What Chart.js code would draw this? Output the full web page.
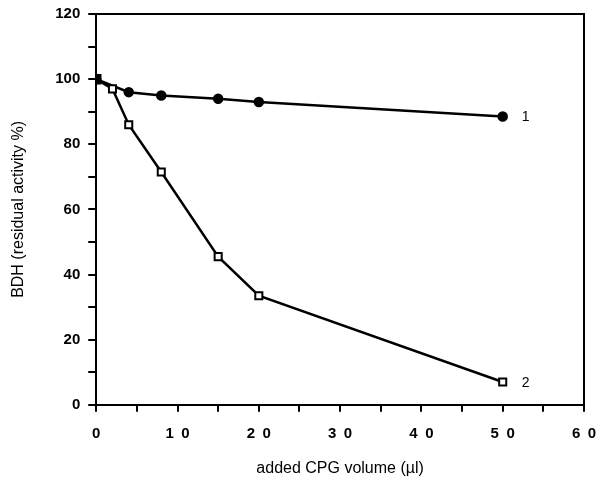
<!DOCTYPE html>
<html>
<head>
<meta charset="utf-8">
<script src="https://cdn.jsdelivr.net/npm/chart.js@4/dist/chart.umd.min.js"></script>
<style>
  html, body { margin: 0; padding: 0; background: #fff; }
  #wrap { width: 597px; height: 487px; }
</style>
</head>
<body>
<div id="wrap"><canvas id="bdhChart"></canvas></div>
<script>
  // curve 1 and curve 2
  var volume1 = [0, 4, 8, 15, 20, 50];
  var activity1 = [100, 96, 95, 94, 93, 88.5];
  var volume2 = [0, 2, 4, 8, 15, 20, 50];
  var activity2 = [100, 97, 86, 71.5, 45.5, 33.5, 7];
  var curveNames = ['1', '2'];
  var xTicks = [0, 10, 20, 30, 40, 50, 60];
  var yTicks = [0, 20, 40, 60, 80, 100, 120];

  var FONT = '"Liberation Sans", Arial, sans-serif';

  function pts(xs, ys) {
    return xs.map(function (x, i) { return { x: x, y: ys[i] }; });
  }

  // frame around plot + curve numbers at the last point
  var framePlugin = {
    id: 'frame',
    afterDatasetsDraw: function (chart) {
      var c = chart.ctx, a = chart.chartArea;
      c.save();
      c.strokeStyle = '#000';
      c.lineWidth = 2;
      c.beginPath();
      c.moveTo(a.left, a.top);
      c.lineTo(a.right, a.top);
      c.lineTo(a.right, a.bottom);
      c.stroke();
      c.font = '14px ' + FONT;
      c.fillStyle = '#000';
      c.textBaseline = 'middle';
      chart.data.datasets.forEach(function (ds, i) {
        var meta = chart.getDatasetMeta(i);
        var last = meta.data[meta.data.length - 1];
        c.fillText(ds.label, last.x + 19, last.y + 1);
      });
      c.restore();
    }
  };

  var ctx = document.getElementById('bdhChart').getContext('2d');
  var myChart = new Chart(ctx, {
    type: 'scatter',
    data: {
      datasets: [{
        label: curveNames[0],
        data: pts(volume1, activity1),
        order: 2,
        showLine: true,
        borderColor: '#000',
        borderWidth: 2.5,
        pointStyle: 'circle',
        pointRadius: 4,
        pointBackgroundColor: '#000',
        pointBorderColor: '#000'
      }, {
        label: curveNames[1],
        data: pts(volume2, activity2),
        order: 1,
        showLine: true,
        borderColor: '#000',
        borderWidth: 2.5,
        pointStyle: 'rect',
        pointRadius: function (c) { return c.dataIndex === 0 ? 6 : 5; },
        pointBorderWidth: 2,
        pointBackgroundColor: function (c) { return c.dataIndex === 0 ? '#000' : '#fff'; },
        pointBorderColor: '#000'
      }]
    },
    options: {
      responsive: true,
      maintainAspectRatio: false,
      animation: false,
      layout: { padding: { top: 0, right: 1, left: 9, bottom: 9 } },
      plugins: { legend: { display: false }, tooltip: { enabled: false } },
      scales: {
        x: {
          type: 'linear',
          min: 0, max: 60,
          afterFit: function (scale) { scale.paddingRight = 13; },
          border: { color: '#000', width: 2 },
          grid: { drawOnChartArea: false, color: '#000', lineWidth: 2, tickLength: 7 },
          ticks: {
            stepSize: 5,
            color: '#000',
            padding: 13,
            font: { family: FONT, size: 15, weight: 'bold' },
            callback: function (v) {
              return xTicks.indexOf(v) >= 0 ? String(v).split('').join('\u2002') : '';
            }
          },
          title: {
            display: true,
            text: 'added CPG volume (µl)',
            color: '#000',
            padding: { top: 3, bottom: 0 },
            font: { family: FONT, size: 16 }
          }
        },
        y: {
          min: 0, max: 120,
          afterFit: function (scale) { scale.paddingTop = 14; },
          border: { color: '#000', width: 2 },
          grid: { drawOnChartArea: false, color: '#000', lineWidth: 2, tickLength: 8 },
          ticks: {
            stepSize: 10,
            color: '#000',
            padding: 8,
            font: { family: FONT, size: 15, weight: 'bold' },
            callback: function (v) { return yTicks.indexOf(v) >= 0 ? v : ''; }
          },
          title: {
            display: true,
            text: 'BDH (residual activity %)',
            color: '#000',
            padding: { top: 0, bottom: 19 },
            font: { family: FONT, size: 16 }
          }
        }
      }
    },
    plugins: [framePlugin]
  });
</script>
</body>
</html>
